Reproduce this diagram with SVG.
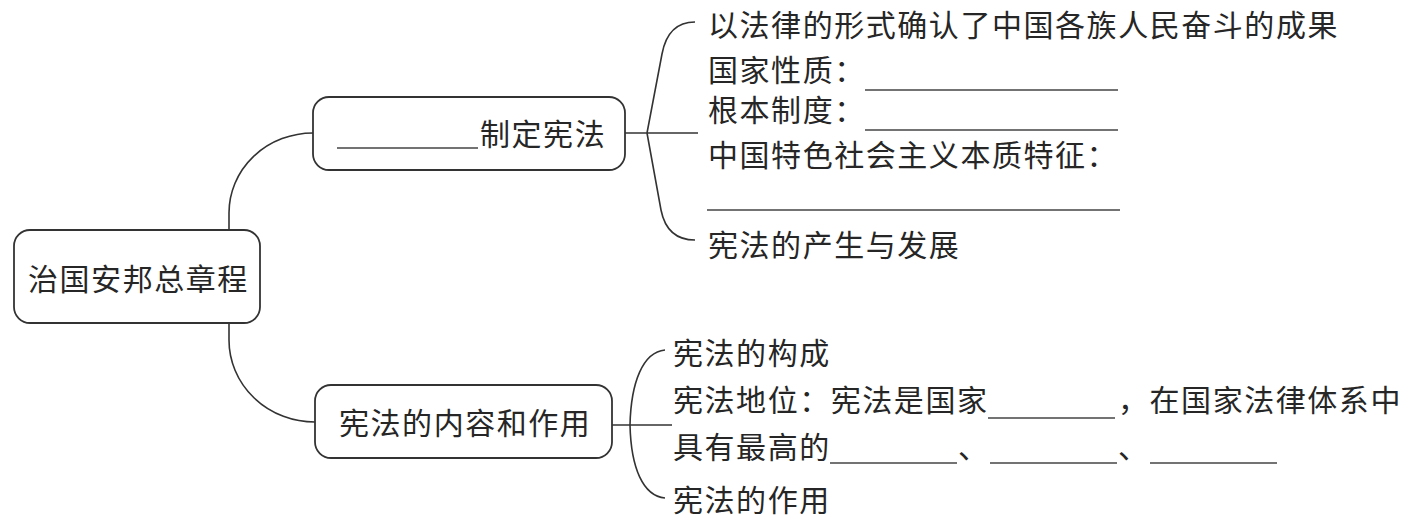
<svg xmlns="http://www.w3.org/2000/svg" width="1426" height="528" viewBox="0 0 1426 528">
<style>
.bg{fill:#ffffff}
.box{fill:#ffffff;stroke:#333333;stroke-width:1.8}
.ln{fill:none;stroke:#333333;stroke-width:1.6}
.bl{fill:none;stroke:#444444;stroke-width:1.5}
text{font-family:"Noto Sans CJK SC","Noto Sans CJK JP",sans-serif;font-size:30px;letter-spacing:1.55px;fill:#262626}
</style>
<rect class="bg" x="0" y="0" width="1426" height="528"/>
<g id="connectors">
<path class="ln" d="M229,230 L229,213 A84,80 0 0 1 313,133"/>
<path class="ln" d="M229,323 L229,340 A86,82 0 0 0 315,422"/>
<path class="ln" d="M625,133 L698,133"/>
<path class="ln" d="M647,133 L662,54 Q668,22 695,22"/>
<path class="ln" d="M647,133 L661,210 Q667,240 695,240"/>
<path class="ln" d="M612,425 L672,425"/>
<path class="ln" d="M630,425 C631,382 643,352 665,350"/>
<path class="ln" d="M630,425 C631,468 643,496 665,498"/>
</g>
<g id="root">
<rect class="box" x="14" y="230" width="246" height="93" rx="16"/>
<text x="28" y="290">治国安邦总章程</text>
</g>
<g id="node-zhiding">
<rect class="box" x="313" y="97" width="312" height="73" rx="16"/>
<line class="bl" x1="337" y1="148" x2="478" y2="148"/>
<text x="480" y="145">制定宪法</text>
</g>
<g id="node-neirong">
<rect class="box" x="315" y="385" width="297" height="73" rx="16"/>
<text x="339" y="434">宪法的内容和作用</text>
</g>
<g id="leaf-chengguo">
<text x="708" y="36">以法律的形式确认了中国各族人民奋斗的成果</text>
</g>
<g id="leaf-xingzhi">
<text x="708" y="81">国家性质：</text>
<line class="bl" x1="865" y1="90" x2="1118" y2="90"/>
</g>
<g id="leaf-zhidu">
<text x="708" y="121">根本制度：</text>
<line class="bl" x1="865" y1="130" x2="1118" y2="130"/>
</g>
<g id="leaf-tezheng">
<text x="708" y="166">中国特色社会主义本质特征：</text>
<line class="bl" x1="707" y1="210" x2="1120" y2="210"/>
</g>
<g id="leaf-fazhan">
<text x="708" y="256">宪法的产生与发展</text>
</g>
<g id="leaf-goucheng">
<text x="673" y="364">宪法的构成</text>
</g>
<g id="leaf-diwei">
<text x="673" y="411">宪法地位：宪法是国家</text>
<line class="bl" x1="988" y1="418" x2="1115" y2="418"/>
<text x="1118" y="411">，在国家法律体系中</text>
<text x="673" y="458">具有最高的</text>
<line class="bl" x1="830" y1="463" x2="957" y2="463"/>
<text x="958" y="458">、</text>
<line class="bl" x1="990" y1="463" x2="1117" y2="463"/>
<text x="1118" y="458">、</text>
<line class="bl" x1="1150" y1="463" x2="1277" y2="463"/>
</g>
<g id="leaf-zuoyong">
<text x="673" y="511">宪法的作用</text>
</g>
</svg>
